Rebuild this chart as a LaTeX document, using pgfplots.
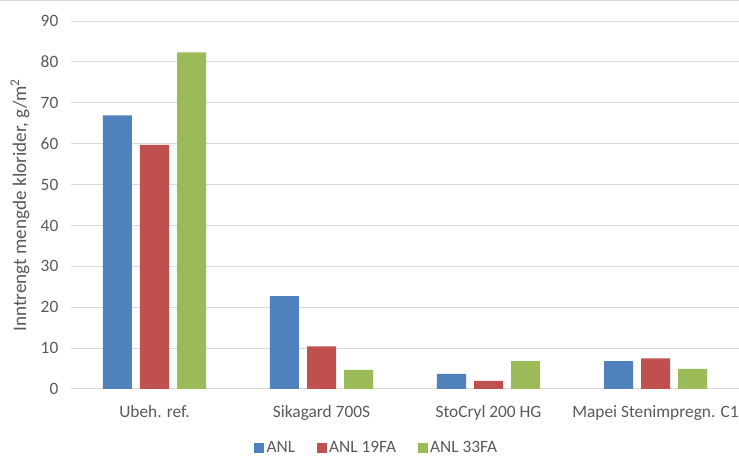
\documentclass[border=0pt]{standalone}
\usepackage{fontspec}
\setmainfont{Carlito}
\usepackage{pgfplots}
\pgfplotsset{compat=1.18}

\definecolor{anl}{HTML}{4F81BD}
\definecolor{anl19}{HTML}{C0504D}
\definecolor{anl33}{HTML}{9BBB59}
\definecolor{gridgray}{HTML}{D9D9D9}
\definecolor{txtgray}{HTML}{595959}

\begin{document}
\begin{tikzpicture}
% page = 739 x 456 px, 1 px = 0.75pt
\path[use as bounding box] (0,0) rectangle (554.25pt,342pt);
\draw[gridgray, line width=0.75pt] (0,341.6pt) -- (554.25pt,341.6pt);
\begin{axis}[
    at={(53.25pt,50.25pt)}, anchor=south west,
    scale only axis,
    width=501pt, height=276pt,
    ybar=6pt, bar width=21.75pt,
    xmin=-0.5, xmax=3.5,
    ymin=0, ymax=90,
    ytick={0,10,...,90},
    xtick=data,
    xticklabels={Ubeh. ref., Sikagard 700S, StoCryl 200 HG, Mapei Stenimpregn. C1},
    ymajorgrids,
    grid style={gridgray, line width=0.75pt},
    axis line style={draw=none},
    major tick length=0pt,
    tick label style={font=\fontsize{13pt}{15pt}\selectfont, text=txtgray},
    /pgf/number format/assume math mode=true,
    xticklabel style={yshift=-9pt},
    yticklabel style={xshift=-6pt},
    ylabel={Inntrengt mengde klorider, g/m\textsuperscript{2}},
    ylabel style={at={(axis description cs:-0.0763,0.5)}, anchor=center,
                  font=\fontsize{14.4pt}{16pt}\selectfont, text=txtgray},
    legend columns=3,
    legend style={draw=none, at={(0.458,-0.16)}, anchor=center,
                  font=\fontsize{13pt}{15pt}\selectfont, text=txtgray,
                  nodes={inner ysep=0.5pt},
                  /tikz/every even column/.append style={column sep=14pt},
                  inner sep=0pt},
    legend image code/.code={\fill[#1] (0pt,-3.75pt) rectangle (7.5pt,3.75pt);},
]
\addplot[fill=anl, draw=none] coordinates {(0,66.9) (1,22.7) (2,3.7) (3,6.8)};
\addplot[fill=anl19, draw=none] coordinates {(0,59.7) (1,10.4) (2,2.0) (3,7.5)};
\addplot[fill=anl33, draw=none] coordinates {(0,82.3) (1,4.7) (2,6.8) (3,4.9)};
\legend{ANL, ANL 19FA, ANL 33FA}
\end{axis}
\end{tikzpicture}
\end{document}
